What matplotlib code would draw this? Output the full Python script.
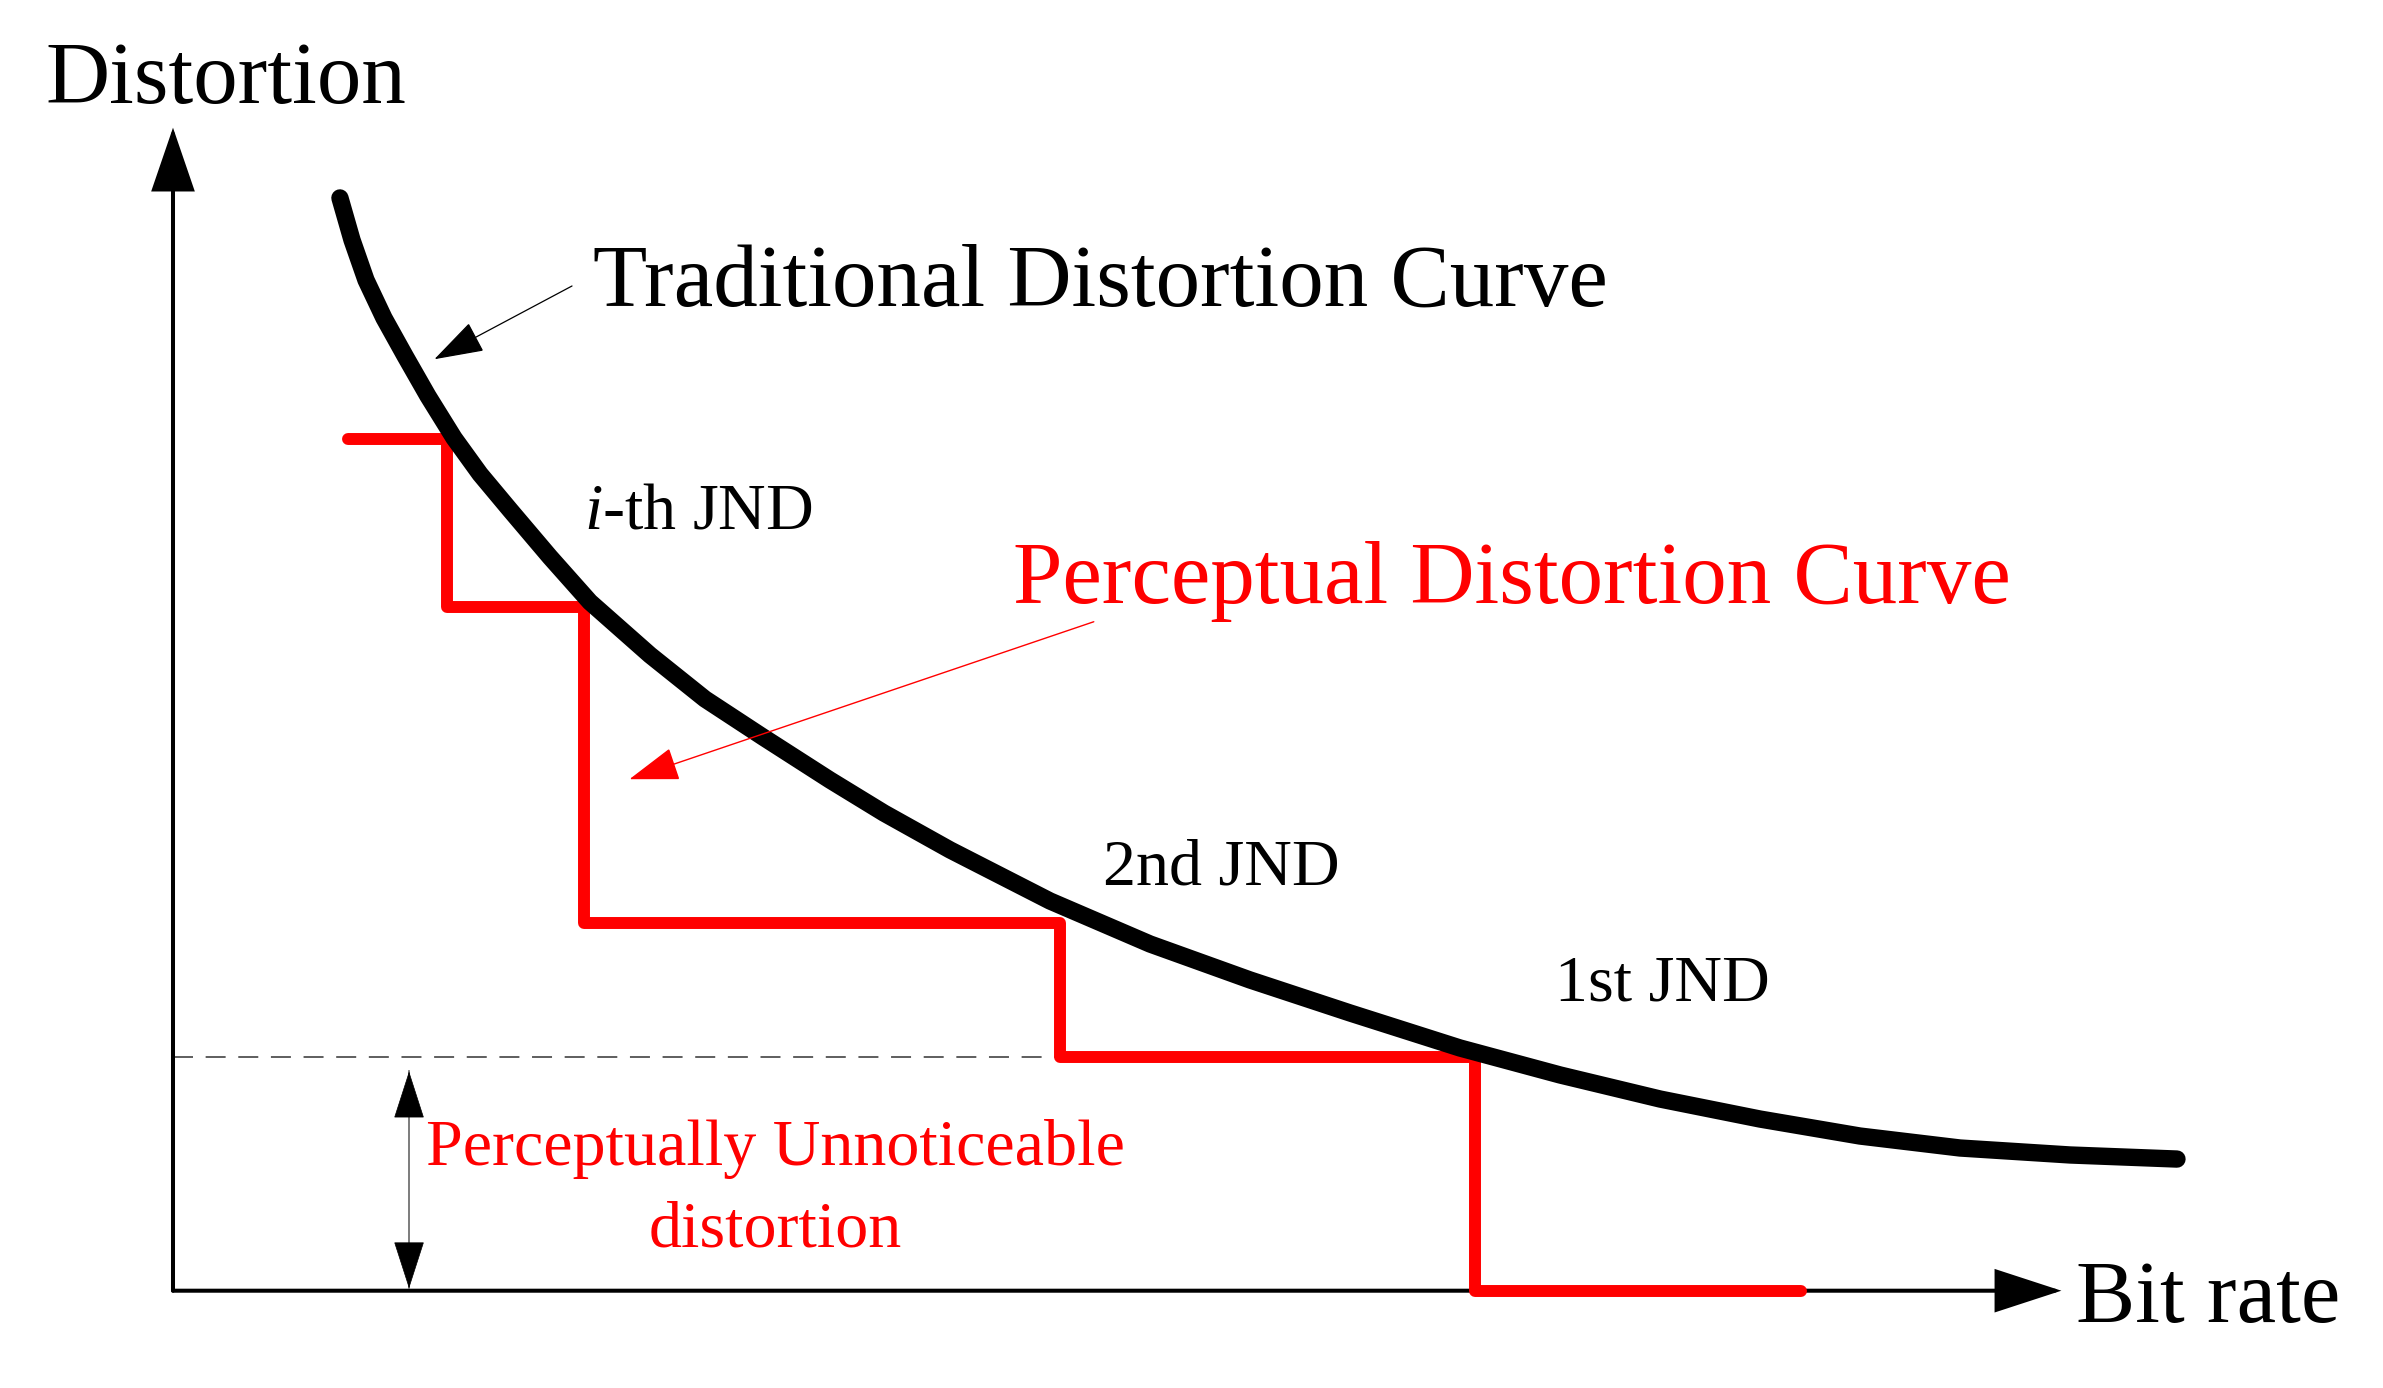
import matplotlib
matplotlib.use('Agg')
import matplotlib.pyplot as plt

plt.rcParams['font.family'] = ['Liberation Serif', 'DejaVu Serif']
plt.rcParams['mathtext.fontset'] = 'custom'
plt.rcParams['mathtext.rm'] = 'Liberation Serif'
plt.rcParams['mathtext.it'] = 'Liberation Serif:italic'
plt.rcParams['lines.scale_dashes'] = False

# traditional distortion curve (bit rate, distortion)
curve_rate = [8.84, 9.48, 10.22, 11.17, 12.29, 13.50, 14.88, 16.26, 17.85, 19.96, 22.08,
              25.26, 28.17, 31.24, 34.79, 37.65, 41.15, 46.44, 51.74, 57.03, 62.33,
              68.15, 73.45, 78.75, 84.04, 89.33, 94.63, 100.46, 106.12]
curve_dist = [93.96, 90.34, 86.90, 83.64, 80.37, 76.93, 73.32, 70.22, 67.13, 63.09, 59.22,
              54.66, 50.88, 47.61, 43.91, 41.07, 37.90, 33.51, 29.81, 26.72, 23.88,
              20.87, 18.55, 16.48, 14.76, 13.30, 12.27, 11.67, 11.32]

# perceptual distortion curve (staircase): step edges and levels
step_rate = [9.27, 14.51, 21.76, 46.97, 68.95, 86.21]
step_dist = [73.26, 58.81, 31.62, 20.07, 0.0]

jnd_labels = ['$\\mathit{i}$-th JND', '2nd JND', '1st JND']
unnoticeable = step_dist[3]

fig = plt.figure(figsize=(23.83, 13.88), dpi=100)
ax = fig.add_axes([0, 0, 1, 1])
ax.set_xlim(-9.161, 117.03)
ax.set_ylim(-8.366, 110.98)
ax.axis('off')


def arrow(tip, tail, color, lw, hl, hw, z=5):
    ax.annotate('', xy=tip, xytext=tail,
                arrowprops=dict(arrowstyle=f'-|>,head_length={hl},head_width={hw}',
                                color=color, lw=lw, shrinkA=0, shrinkB=0,
                                mutation_scale=1, joinstyle='miter'),
                zorder=z)


# axes with arrows
arrow((100, 0), (0, 0), 'black', 2.9, 42, 13.7, z=2)
arrow((0, 100), (0, 0), 'black', 2.9, 40, 13.7, z=2)

# curves
ax.plot(curve_rate, curve_dist, color='black', lw=12.5,
        solid_capstyle='round', solid_joinstyle='round', zorder=4)
ax.step(step_rate, step_dist + [step_dist[-1]], where='post', color='red', lw=8.6,
        solid_capstyle='round', solid_joinstyle='round', zorder=3)

# just-noticeable threshold
ax.plot([0, step_rate[3]], [unnoticeable, unnoticeable], color='#333333', lw=1.1,
        ls=(0, (14.4, 9.1)), zorder=1)
ax.plot([12.5, 12.5], [0.2, 18.85], color='#666666', lw=1.2, zorder=2)
arrow((12.5, 18.85), (12.5, 15.0), 'black', 0.5, 32, 10.3)
arrow((12.5, 0.2), (12.5, 4.05), 'black', 0.5, 32, 10.3)

# pointers
arrow((13.84, 80.09), (21.13, 86.39), 'black', 0.9, 32, 10.4)
arrow((24.17, 43.98), (48.76, 57.52), 'red', 1.0, 32, 10.8, z=6)

# text
big = 64
mid = 47.5
ax.text(-6.73, 102.1, 'Distortion', fontsize=big, va='baseline', ha='left')
ax.text(100.76, -2.67, 'Bit rate', fontsize=big, va='baseline', ha='left')
ax.text(22.23, 84.67, 'Traditional Distortion Curve', fontsize=big, va='baseline', ha='left')
ax.text(44.49, 59.11, 'Perceptual Distortion Curve', fontsize=big, va='baseline', ha='left',
        color='red')
ax.text(21.75, 65.55, jnd_labels[0], fontsize=mid, va='baseline', ha='left')
ax.text(49.26, 34.97, jnd_labels[1], fontsize=mid, va='baseline', ha='left')
ax.text(73.18, 24.94, jnd_labels[2], fontsize=mid, va='baseline', ha='left')
ax.text(31.88, 10.81, 'Perceptually Unnoticeable', fontsize=mid, va='baseline', ha='center',
        color='red')
ax.text(31.88, 3.84, 'distortion', fontsize=mid, va='baseline', ha='center', color='red')

fig.savefig('out.png', dpi=100)
